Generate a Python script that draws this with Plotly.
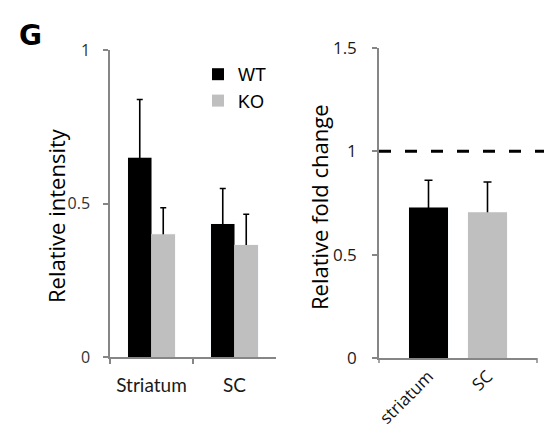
import plotly.graph_objects as go

# Western blot densitometry (left) and qPCR fold change (right)
regions = ["Striatum", "SC"]
wt_intensity = [0.649, 0.433]
wt_err = [0.19, 0.116]
ko_intensity = [0.40, 0.365]
ko_err = [0.086, 0.10]

fold_labels = ["striatum", "SC"]
fold_change = [0.728, 0.704]
fold_err = [0.131, 0.147]
reference_level = 1.0

BLACK = "#000000"
GRAY = "#bfbfbf"
AXIS = "#868686"
W, H = 544, 433
LEFT_PX_PER_UNIT = 307.0    # plot height / y range, left panel
RIGHT_PX_PER_UNIT = 206.9   # plot height / y range, right panel


def add_bars(x, y, err, color, group, axes, cap, px_per_unit, name=None, width=None):
    """Bars with upward-only error bars.

    The error bars sit on a transparent copy of the bars in the same offset
    group; their lower cap is tucked 3 px inside the bar so the opaque bars
    drawn on top hide it.
    """
    xa, ya = axes
    tuck = 3.0 / px_per_unit
    fig.add_trace(go.Bar(
        x=x, y=y, width=width, offsetgroup=group, showlegend=False,
        marker=dict(color="rgba(0,0,0,0)"), hoverinfo="skip",
        error_y=dict(type="data", symmetric=False, array=err,
                     arrayminus=[tuck] * len(err),
                     color=BLACK, thickness=1.6, width=cap),
        xaxis=xa, yaxis=ya,
    ))
    fig.add_trace(go.Bar(
        x=x, y=y, width=width, offsetgroup=group, name=name,
        showlegend=name is not None, marker=dict(color=color, line=dict(width=0)),
        xaxis=xa, yaxis=ya,
    ))


fig = go.Figure()
add_bars(regions, wt_intensity, wt_err, BLACK, "WT", ("x", "y"), 3, LEFT_PX_PER_UNIT, name="WT")
add_bars(regions, ko_intensity, ko_err, GRAY, "KO", ("x", "y"), 3, LEFT_PX_PER_UNIT, name="KO")
add_bars(fold_labels, fold_change, fold_err, [BLACK, GRAY], "fold", ("x2", "y2"), 4,
         RIGHT_PX_PER_UNIT, width=0.661)

fig.update_layout(
    width=W, height=H,
    margin=dict(l=0, r=0, t=0, b=0, autoexpand=False),
    paper_bgcolor="white", plot_bgcolor="white",
    barmode="group", bargap=0.434, bargroupgap=0,
    showlegend=True,
    legend=dict(x=198 / W, y=1 - 56 / H, xanchor="left", yanchor="top",
                font=dict(family="Liberation Sans Narrow, Liberation Sans, sans-serif",
                          size=18, color=BLACK),
                bgcolor="rgba(0,0,0,0)", itemwidth=30, tracegroupgap=0),
    xaxis=dict(domain=[110 / W, 276 / W], type="category", anchor="y",
               showline=True, linecolor=AXIS, linewidth=1.5,
               ticks="outside", tickson="boundaries", ticklen=5, tickcolor=AXIS,
               tickwidth=1.5, tickangle=0,
               tickfont=dict(family="Lato, Open Sans, sans-serif", size=19, color="#1a1a1a"),
               ticklabelstandoff=10, showgrid=False, zeroline=False, fixedrange=True),
    yaxis=dict(domain=[76 / H, 383 / H], range=[0, 1], anchor="x",
               tickvals=[0, 0.5, 1], ticktext=["0", "0.5", "1"],
               showline=True, linecolor=AXIS, linewidth=1.5,
               ticks="outside", ticklen=5, tickcolor=AXIS, tickwidth=1.5,
               tickfont=dict(family="Open Sans, sans-serif", size=16, color="#333333"),
               ticklabelstandoff=10, showgrid=False, zeroline=False),
    xaxis2=dict(domain=[379 / W, 537 / W], type="category", anchor="y2",
                range=[-0.839, 1.839],
                showline=True, linecolor=AXIS, linewidth=1.5, ticks="",
                tickangle=-45,
                tickfont=dict(family="Open Sans, sans-serif", size=17, color="#111111"),
                ticklabelstandoff=0, showgrid=False, zeroline=False),
    yaxis2=dict(domain=[75 / H, 385.3 / H], range=[0, 1.5], anchor="x2",
                tickvals=[0, 0.5, 1, 1.5], ticktext=["0", "0.5", "1", "1.5"],
                showline=True, linecolor=AXIS, linewidth=1.5,
                ticks="outside", ticklen=5, tickcolor=AXIS, tickwidth=1.5,
                tickfont=dict(family="Open Sans, sans-serif", size=17, color="#1a1a1a"),
                ticklabelstandoff=12, showgrid=False, zeroline=False),
)

# dashed reference line at fold change = 1
fig.add_shape(type="line", xref="x2 domain", yref="y2",
              x0=0, x1=(W - 379) / (537 - 379), y0=reference_level, y1=reference_level,
              line=dict(color=BLACK, width=3, dash="12px,14px"))

# end tick marks on the fold-change category axis
for xd in (0, 1):
    fig.add_shape(type="line", xref="x2 domain", yref="paper",
                  x0=xd, x1=xd, y0=75 / H, y1=70 / H,
                  line=dict(color=AXIS, width=1.5))

title_font = dict(family="Open Sans, sans-serif", size=22, color=BLACK)
fig.add_annotation(text="Relative intensity", textangle=-90, showarrow=False,
                   xref="paper", yref="paper", x=56 / W, y=1 - 216 / H,
                   xanchor="center", yanchor="middle", font=title_font)
fig.add_annotation(text="Relative fold change", textangle=-90, showarrow=False,
                   xref="paper", yref="paper", x=319 / W, y=1 - 207 / H,
                   xanchor="center", yanchor="middle", font=title_font)
fig.add_annotation(text="<b>G</b>", showarrow=False, xref="paper", yref="paper",
                   x=17 / W, y=1 - 17 / H, xanchor="left", yanchor="top",
                   font=dict(family="DejaVu Sans, sans-serif", size=28, color=BLACK))

fig.write_html("out.html")
